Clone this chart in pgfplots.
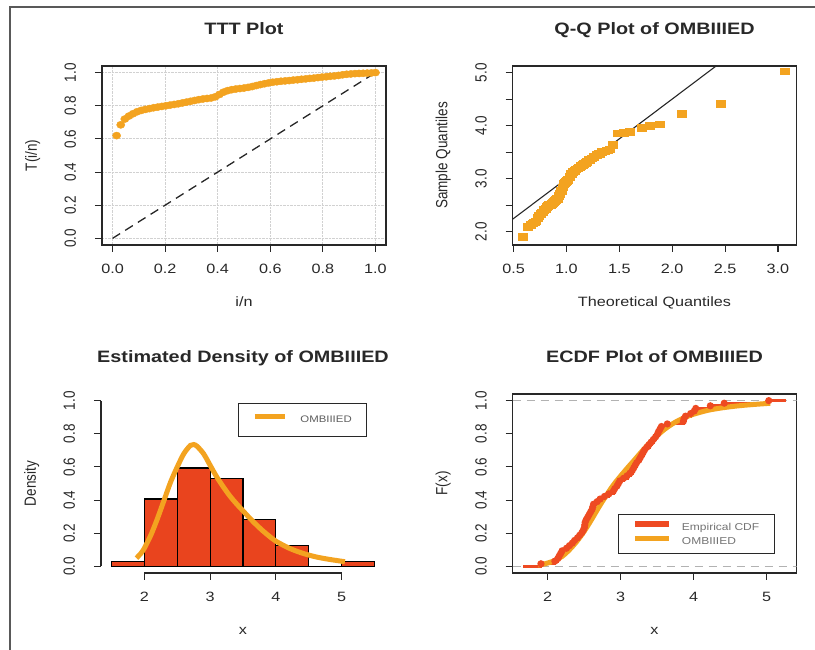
\documentclass[border=0pt]{standalone}
\usepackage{pgfplots}
\pgfplotsset{compat=1.18}
\usepackage{fontspec}
\setmainfont{Liberation Sans}
\usepackage{graphicx}

\definecolor{fitorange}{RGB}{243,163,32}
\definecolor{histred}{RGB}{233,68,30}
\definecolor{ecdfred}{RGB}{238,74,34}
\definecolor{ink}{RGB}{40,40,40}

% R output is set a little wide: stretch horizontal and rotated text
\newcommand{\hx}[1]{\scalebox{1.2}[1]{#1}}
\newcommand{\hy}[1]{\scalebox{1}[1.2]{#1}}
\newcommand{\tfont}{\fontsize{13.5}{14}\selectfont}

\pgfplotsset{
  rpanel/.style={
    scale only axis, width=284pt, height=179pt,
    axis line style={line width=1.1pt, ink},
    tick style={line width=1.1pt, ink},
    tick align=outside, major tick length=7pt,
    xtick pos=left, ytick pos=left,
    tick label style={font=\tfont, text=ink},
    xticklabel style={anchor=base},
    yticklabel style={rotate=90, anchor=base},
    xticklabel shift=22pt, yticklabel shift=19pt,
    label style={font=\tfont, text=ink},
    xlabel style={at={(axis description cs:0.5,-0.343)}, anchor=base},
    ylabel style={at={(axis description cs:-0.229,0.5)}, anchor=base, rotate=0},
    title style={at={(axis description cs:0.5,1.145)}, anchor=base,
                 font=\fontsize{16.5}{18}\selectfont\bfseries, text=ink},
  },
}

\begin{document}
\begin{tikzpicture}[x=1pt,y=1pt]
\useasboundingbox (0,0) rectangle (815,650);
\draw[line width=1.2pt, black!65] (10,0) -- (10,643) -- (815,643);

% ---------------- TTT plot ----------------
\begin{axis}[rpanel, at={(102pt,405pt)}, anchor=south west,
  xmin=-0.04, xmax=1.04, ymin=-0.04, ymax=1.04,
  xtick={0,0.2,0.4,0.6,0.8,1},
  xticklabels={\hx{0.0},\hx{0.2},\hx{0.4},\hx{0.6},\hx{0.8},\hx{1.0}},
  ytick={0,0.2,0.4,0.6,0.8,1},
  yticklabels={\hy{0.0},\hy{0.2},\hy{0.4},\hy{0.6},\hy{0.8},\hy{1.0}},
  grid=major, major grid style={densely dotted, black!18, line width=1pt},
  title={\hx{TTT Plot}}, xlabel={\hx{i/n}}, ylabel={\hy{T(i/n)}}]
\addplot[only marks, mark=*, mark size=3.6pt,
  mark options={xscale=1.15, draw=fitorange, fill=fitorange}] coordinates {
(0.015625,0.620) (0.03125,0.685) (0.046875,0.720) (0.0625,0.738)
(0.078125,0.752) (0.09375,0.764) (0.109375,0.772) (0.125,0.778)
(0.140625,0.783) (0.15625,0.788) (0.171875,0.792) (0.1875,0.796)
(0.203125,0.800) (0.21875,0.804) (0.234375,0.808) (0.25,0.812)
(0.265625,0.817) (0.28125,0.822) (0.296875,0.827) (0.3125,0.832)
(0.328125,0.837) (0.34375,0.841) (0.359375,0.844) (0.375,0.847)
(0.390625,0.854) (0.40625,0.868) (0.421875,0.882) (0.4375,0.891)
(0.453125,0.897) (0.46875,0.901) (0.484375,0.904) (0.5,0.907)
(0.515625,0.911) (0.53125,0.916) (0.546875,0.922) (0.5625,0.928)
(0.578125,0.933) (0.59375,0.938) (0.609375,0.942) (0.625,0.945)
(0.640625,0.948) (0.65625,0.950) (0.671875,0.952) (0.6875,0.955)
(0.703125,0.957) (0.71875,0.960) (0.734375,0.962) (0.75,0.965)
(0.765625,0.967) (0.78125,0.970) (0.796875,0.973) (0.8125,0.975)
(0.828125,0.978) (0.84375,0.980) (0.859375,0.983) (0.875,0.987)
(0.890625,0.990) (0.90625,0.992) (0.921875,0.994) (0.9375,0.995)
(0.953125,0.996) (0.96875,0.997) (0.984375,0.998) (1,1.000)};
\addplot[black!85, line width=1.3pt, dash pattern=on 9pt off 6pt]
  coordinates {(0,0) (1,1)};
\end{axis}

% ---------------- Q-Q plot ----------------
\begin{axis}[rpanel, at={(512.5pt,405pt)}, anchor=south west,
  xmin=0.49, xmax=3.175, ymin=1.75, ymax=5.13,
  xtick={0.5,1,1.5,2,2.5,3},
  xticklabels={\hx{0.5},\hx{1.0},\hx{1.5},\hx{2.0},\hx{2.5},\hx{3.0}},
  ytick={2,2.5,3,3.5,4,4.5,5},
  yticklabels={\hy{2.0},,\hy{3.0},,\hy{4.0},,\hy{5.0}},
  title={\hx{Q-Q Plot of OMBIIIED}},
  xlabel={\hx{Theoretical Quantiles}}, ylabel={\hy{Sample Quantiles}}]
\addplot[only marks, mark=square*, mark size=3.4pt,
  mark options={xscale=1.35, draw=fitorange, fill=fitorange}] coordinates {
(0.585,1.91) (0.635,2.10) (0.66,2.14) (0.68,2.16) (0.695,2.18) (0.71,2.20)
(0.725,2.26) (0.74,2.30) (0.755,2.34) (0.77,2.37) (0.785,2.41) (0.80,2.44)
(0.81,2.47) (0.82,2.49) (0.83,2.505) (0.84,2.51) (0.85,2.515) (0.86,2.53)
(0.87,2.55) (0.88,2.57) (0.89,2.59) (0.90,2.61) (0.91,2.62) (0.92,2.63)
(0.93,2.68) (0.94,2.72) (0.95,2.78) (0.965,2.84) (0.975,2.90) (0.985,2.92)
(0.995,2.95) (1.005,2.97) (1.015,2.99) (1.03,3.04) (1.045,3.09) (1.06,3.13)
(1.075,3.16) (1.09,3.18) (1.105,3.20) (1.12,3.22) (1.135,3.25) (1.15,3.27)
(1.165,3.29) (1.18,3.31) (1.195,3.33) (1.215,3.36) (1.235,3.39) (1.26,3.42)
(1.285,3.45) (1.31,3.48) (1.335,3.505) (1.36,3.52) (1.385,3.54) (1.41,3.56)
(1.44,3.64) (1.49,3.86) (1.54,3.87) (1.60,3.89) (1.71,3.96) (1.79,4.01)
(1.88,4.03) (2.09,4.23) (2.46,4.42) (3.06,5.03)};
\addplot[black!85, line width=1.1pt] coordinates {(0.49,2.235) (2.415,5.13)};
\end{axis}

% ---------------- Histogram with fitted density ----------------
\begin{axis}[rpanel, at={(101pt,77pt)}, anchor=south west,
  xmin=1.34, xmax=5.66, ymin=-0.04, ymax=1.04, clip=false,
  axis x line*=bottom, axis y line*=left, axis line style={draw=none},
  xtick={2,3,4,5}, xticklabels={\hx{2},\hx{3},\hx{4},\hx{5}},
  ytick={0,0.2,0.4,0.6,0.8,1},
  yticklabels={\hy{0.0},\hy{0.2},\hy{0.4},\hy{0.6},\hy{0.8},\hy{1.0}},
  title={\hx{Estimated Density of OMBIIIED}},
  xlabel={\hx{x}}, ylabel={\hy{Density}},
  legend style={at={(axis description cs:0.482,0.950)}, anchor=north west,
    draw=ink, line width=1.1pt, inner xsep=14pt, inner ysep=11pt,
    font=\fontsize{9.5}{10}\selectfont, text=ink!75,
    nodes={inner sep=1pt}, /tikz/every odd column/.append style={column sep=12pt}},
  legend image code/.code={\draw[#1, line width=5pt] (0pt,3pt) -- (30pt,3pt);}]
\addplot[ink, line width=1.1pt, forget plot] coordinates {(2,-0.04) (5,-0.04)};
\addplot[ink, line width=1.1pt, forget plot] coordinates {(1.34,0) (1.34,1)};
\addplot[ybar interval, fill=histred, draw=black, line width=1.1pt, forget plot]
  coordinates {(1.5,0.03125) (2.0,0.40625) (2.5,0.59375) (3.0,0.53125)
  (3.5,0.28125) (4.0,0.125) (4.5,0) (5.0,0.03125) (5.5,0)};
\addplot[fitorange, line width=5pt, smooth] coordinates {
(1.88,0.05) (1.95,0.08) (2.0,0.11) (2.1,0.19) (2.2,0.29) (2.3,0.40)
(2.4,0.51) (2.5,0.60) (2.6,0.68) (2.7,0.73) (2.75,0.735) (2.8,0.725)
(2.9,0.68) (3.0,0.61) (3.1,0.54) (3.2,0.48) (3.3,0.425) (3.4,0.378)
(3.5,0.335) (3.6,0.292) (3.7,0.252) (3.8,0.215) (3.9,0.182) (4.0,0.152)
(4.2,0.11) (4.4,0.08) (4.6,0.058) (4.8,0.043) (5.05,0.028)};
\addlegendentry{\hx{OMBIIIED}\hspace{6pt}}
\end{axis}

% ---------------- ECDF with fitted CDF ----------------
\begin{axis}[rpanel, at={(512.5pt,77pt)}, anchor=south west,
  xmin=1.52, xmax=5.41, ymin=-0.04, ymax=1.04,
  xtick={2,3,4,5}, xticklabels={\hx{2},\hx{3},\hx{4},\hx{5}},
  ytick={0,0.2,0.4,0.6,0.8,1},
  yticklabels={\hy{0.0},\hy{0.2},\hy{0.4},\hy{0.6},\hy{0.8},\hy{1.0}},
  title={\hx{ECDF Plot of OMBIIIED}},
  xlabel={\hx{x}}, ylabel={\hy{F(x)}},
  legend style={at={(axis description cs:0.371,0.330)}, anchor=north west,
    draw=ink, line width=1.1pt, inner xsep=14pt, inner ysep=7pt,
    font=\fontsize{10}{10}\selectfont, text=ink!65, row sep=3pt,
    nodes={inner sep=1pt}, /tikz/every odd column/.append style={column sep=9pt}},
  legend cell align=left,
  legend image code/.code={\draw[#1, line width=5.5pt] (0pt,3pt) -- (34pt,3pt);}]
\addplot[black!30, line width=1pt, dash pattern=on 8pt off 6pt, forget plot]
  coordinates {(1.52,0) (5.41,0)};
\addplot[black!30, line width=1pt, dash pattern=on 8pt off 6pt, forget plot]
  coordinates {(1.52,1) (5.41,1)};
\addplot[ecdfred, line width=3pt, const plot, mark=*, mark size=2pt,
  mark indices={2,...,65}, mark options={draw=ecdfred, fill=ecdfred}] coordinates {
(1.67,0)
(1.91,0.015625) (2.10,0.03125) (2.14,0.046875) (2.16,0.0625) (2.18,0.078125)
(2.20,0.09375) (2.26,0.109375) (2.30,0.125) (2.34,0.140625) (2.37,0.15625)
(2.41,0.171875) (2.44,0.1875) (2.47,0.203125) (2.49,0.21875) (2.505,0.234375)
(2.51,0.25) (2.515,0.265625) (2.53,0.28125) (2.55,0.296875) (2.57,0.3125)
(2.59,0.328125) (2.61,0.34375) (2.62,0.359375) (2.63,0.375) (2.68,0.390625)
(2.72,0.40625) (2.78,0.421875) (2.84,0.4375) (2.90,0.453125) (2.92,0.46875)
(2.95,0.484375) (2.97,0.5) (2.99,0.515625) (3.04,0.53125) (3.09,0.546875)
(3.13,0.5625) (3.16,0.578125) (3.18,0.59375) (3.20,0.609375) (3.22,0.625)
(3.25,0.640625) (3.27,0.65625) (3.29,0.671875) (3.31,0.6875) (3.33,0.703125)
(3.36,0.71875) (3.39,0.734375) (3.42,0.75) (3.45,0.765625) (3.48,0.78125)
(3.505,0.796875) (3.52,0.8125) (3.54,0.828125) (3.56,0.84375) (3.64,0.859375)
(3.86,0.875) (3.87,0.890625) (3.89,0.90625) (3.96,0.921875) (4.01,0.9375)
(4.03,0.953125) (4.23,0.96875) (4.42,0.984375) (5.03,1)
(5.27,1)};
\addlegendentry{\hx{Empirical CDF}\hspace{10pt}}
\addplot[fitorange, line width=5pt, smooth] coordinates {
(1.87,0.008) (1.95,0.014) (2.0,0.02) (2.1,0.035) (2.2,0.06) (2.3,0.10)
(2.4,0.15) (2.5,0.21) (2.6,0.28) (2.7,0.355) (2.8,0.425) (2.9,0.49)
(3.0,0.545) (3.1,0.597) (3.2,0.647) (3.3,0.698) (3.4,0.745) (3.5,0.788)
(3.6,0.826) (3.7,0.857) (3.8,0.882) (3.9,0.902) (4.0,0.918) (4.2,0.942)
(4.4,0.957) (4.6,0.968) (4.8,0.976) (5.05,0.984)};
\addlegendentry{\hx{OMBIIIED}}
\end{axis}
\end{tikzpicture}
\end{document}
